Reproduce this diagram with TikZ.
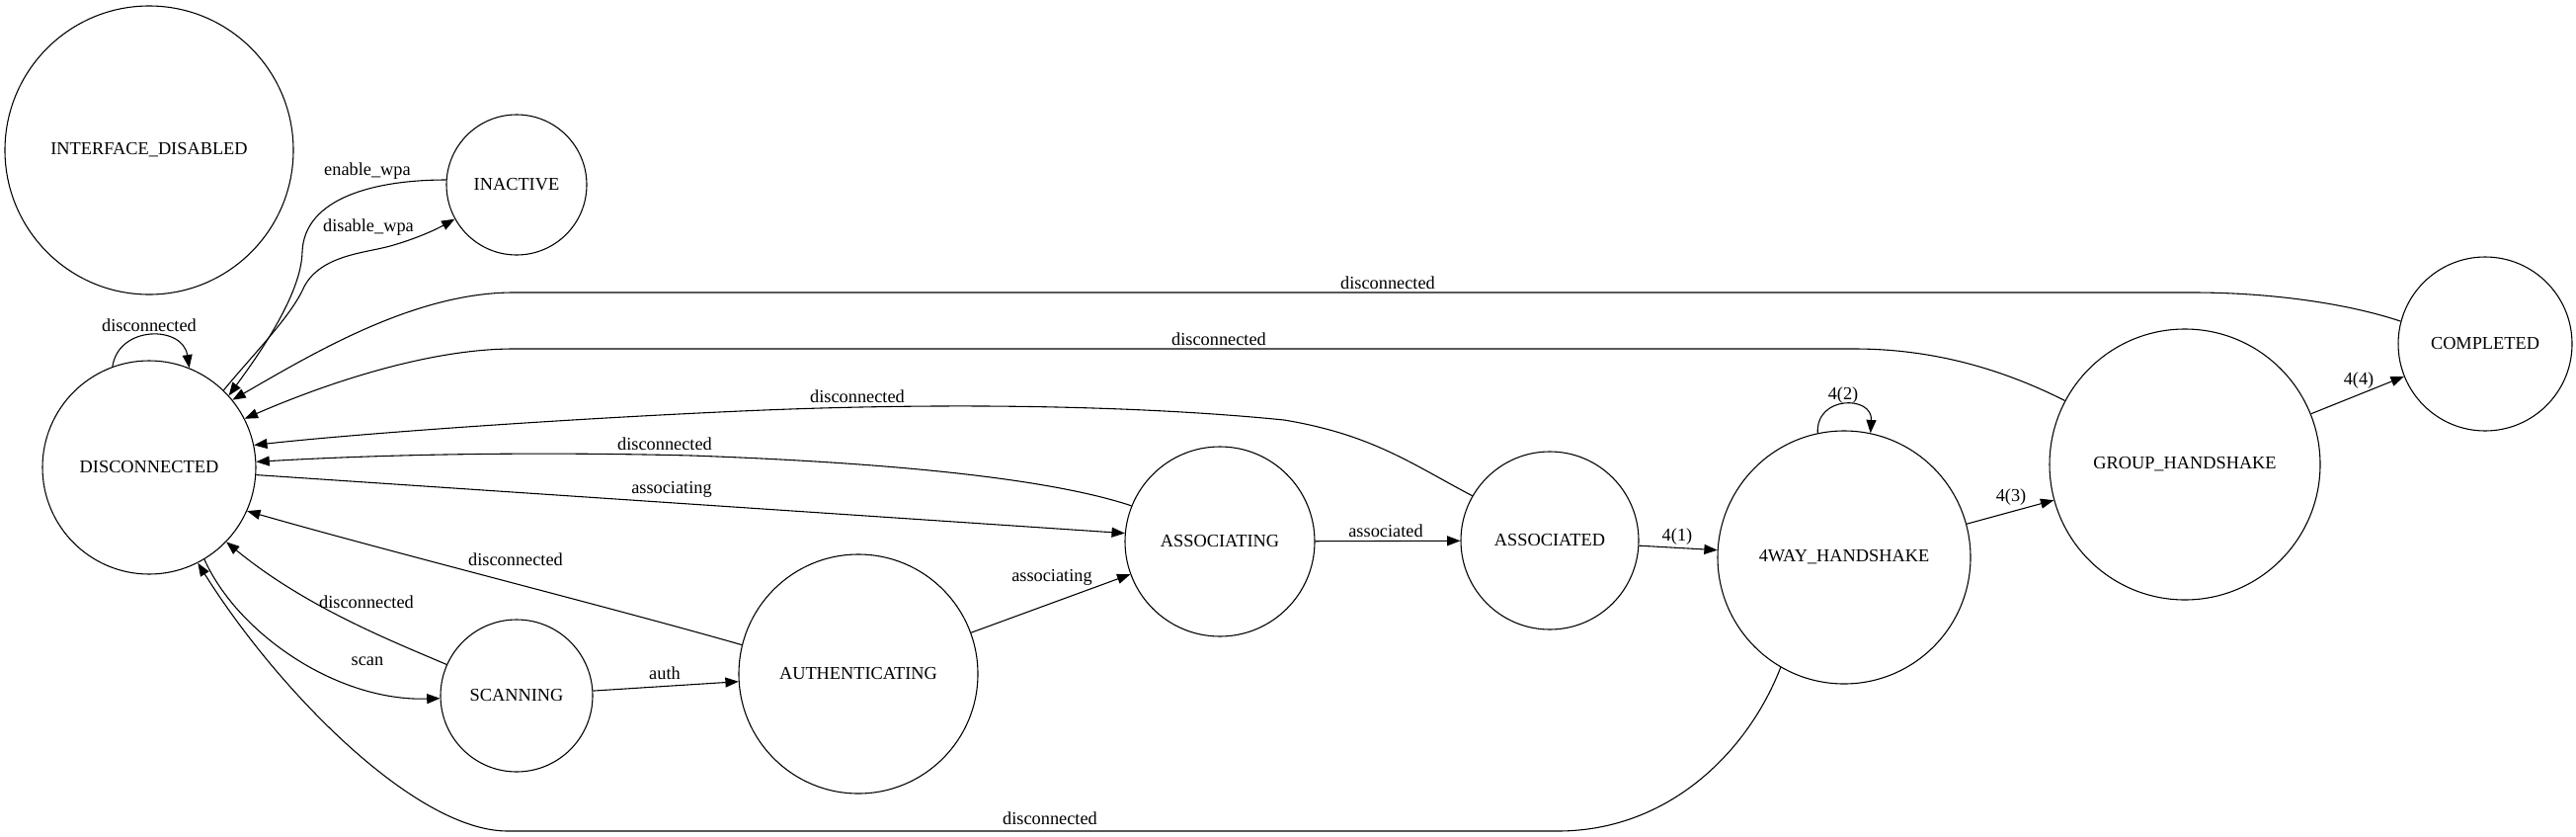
\documentclass[tikz,border=0pt]{standalone}
\usepackage{fontspec}
\setmainfont{Liberation Serif}
\usetikzlibrary{arrows.meta}

\begin{document}
\begin{tikzpicture}[
  x=0.6pt, y=-0.6pt,
  line width=0.65pt,
  every node/.style={font=\fontsize{11}{13}\selectfont},
  state/.style={circle,draw,inner sep=0pt,minimum size=#1},
  lbl/.style={inner sep=0pt},
  arr/.style={-{Triangle[length=8pt,width=6pt]}}]

  \useasboundingbox (0,0) rectangle (2608,846);

  % states
  \node[state=175.2pt] (disabled) at (151,152) {INTERFACE\_DISABLED};
  \node[state=85.2pt] (inactive) at (523,187) {INACTIVE};
  \node[state=129.6pt] (disconn) at (151,473) {DISCONNECTED};
  \node[state=92.4pt] (scanning) at (523,704) {SCANNING};
  \node[state=145.2pt] (auth) at (869,682) {AUTHENTICATING};
  \node[state=115.2pt] (associng) at (1235,548) {ASSOCIATING};
  \node[state=108pt] (assoced) at (1569,547) {ASSOCIATED};
  \node[state=153.6pt] (fourway) at (1867,564) {4WAY\_HANDSHAKE};
  \node[state=164.4pt] (group) at (2212,470) {GROUP\_HANDSHAKE};
  \node[state=105.6pt] (completed) at (2516,348) {COMPLETED};

  % transitions into DISCONNECTED
  \draw[arr] (disconn.110) .. controls (120,329) and (185,329) .. (disconn.68)
    node[lbl] (lblLoop) at (151,329) {disconnected};
  \draw[arr] (inactive.176) .. controls (380,182) and (308,200) .. (306,255)
    .. controls (305,300) and (258,364) .. (disconn.42)
    node[lbl] (lblEnable) at (372,173) {enable\_wpa};
  \draw[arr] (disconn.46) .. controls (255,360) and (295,320) .. (308,290)
    .. controls (325,258) and (370,256) .. (395,249)
    .. controls (420,242) and (440,233) .. (inactive.209)
    node[lbl] (lblDisable) at (373,230) {disable\_wpa};
  \draw[arr] (completed.165) .. controls (2370,305) and (2290,296) .. (2220,296)
    -- (520,296) .. controls (420,296) and (318,357) .. (disconn.39)
    node[lbl] (lblCompl) at (1405,286) {disconnected};
  \draw[arr] (group.152) .. controls (2030,375) and (1960,353) .. (1877,353)
    -- (520,353) .. controls (430,353) and (323,391) .. (disconn.27)
    node[lbl] (lblGroup) at (1234,343) {disconnected};
  \draw[arr] (assoced.150) .. controls (1430,470) and (1390,440) .. (1300,425)
    .. controls (1150,410) and (950,407) .. (750,416)
    .. controls (550,425) and (350,440) .. (disconn.12)
    node[lbl] (lblAssoced) at (868,401) {disconnected};
  \draw[arr] (associng.158) .. controls (1080,490) and (950,470) .. (700,461)
    .. controls (500,456) and (350,462) .. (disconn.3)
    node[lbl] (lblAssocing) at (673,449) {disconnected};
  \draw[arr] (auth.166) .. controls (620,615) and (400,560) .. (disconn.-24)
    node[lbl] (lblAuth) at (522,566) {disconnected};
  \draw[arr] (scanning.156) .. controls (400,650) and (310,615) .. (disconn.-44)
    node[lbl] (lblScanning) at (371,609) {disconnected};
  \draw[arr] (fourway.-120) .. controls (1770,760) and (1690,841) .. (1577,841)
    -- (514,841) .. controls (420,841) and (280,697) .. (disconn.-63)
    node[lbl] (lblFourway) at (1063,828) {disconnected};

  % transitions out of DISCONNECTED
  \draw[arr] (disconn.-4) -- (associng.175)
    node[lbl] (lblToAssoc) at (680,495) {associating};
  \draw[arr] (disconn.-59) .. controls (240,640) and (340,710) .. (scanning.182)
    node[lbl] (lblScan) at (372,669) {scan};

  % main chain
  \draw[arr] (scanning) -- (auth) node[lbl] (lblAuthEdge) at (673,681) {auth};
  \draw[arr] (auth) -- (associng)
    node[lbl] (lblAuthAssoc) at (1065,584) {associating};
  \draw[arr] (associng) -- (assoced)
    node[lbl] (lblAssociated) at (1403,537) {associated};
  \draw[arr] (assoced) -- (fourway) node[lbl] (lblOne) at (1698,543) {4(1)};
  \draw[arr] (fourway.102) .. controls (1838,400) and (1896,400) .. (fourway.78)
    node[lbl] (lblTwo) at (1866,400) {4(2)};
  \draw[arr] (fourway) -- (group) node[lbl] (lblThree) at (2036,503) {4(3)};
  \draw[arr] (group) -- (completed) node[lbl] (lblFour) at (2388,385) {4(4)};
\end{tikzpicture}
\end{document}
